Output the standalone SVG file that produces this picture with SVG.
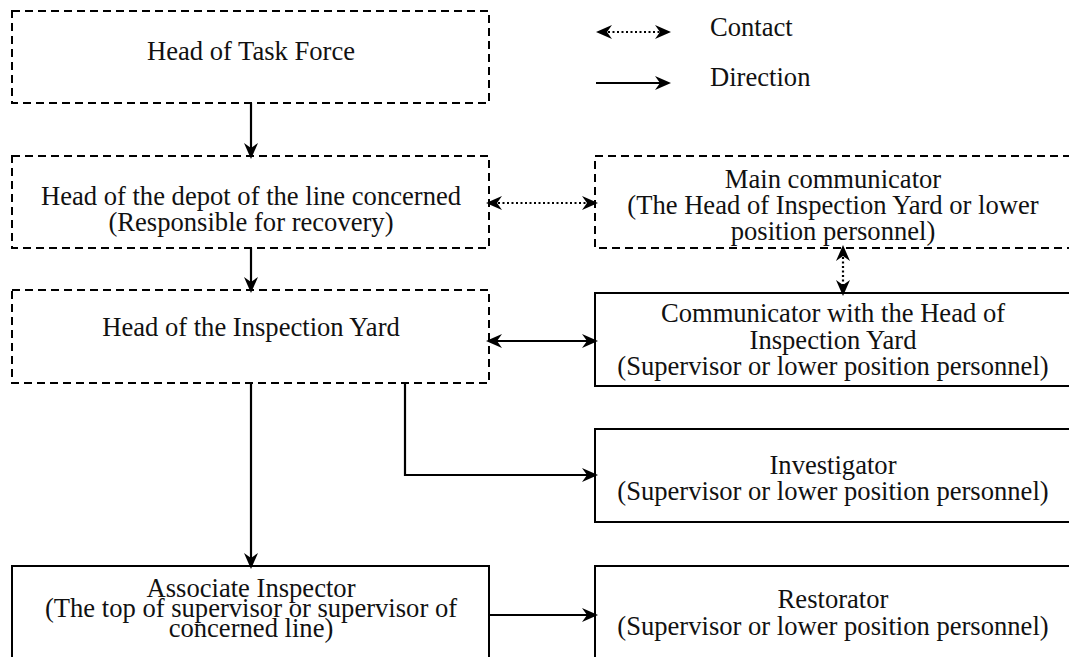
<svg xmlns="http://www.w3.org/2000/svg" width="1069" height="657" viewBox="0 0 1069 657">
  <style>
    .box { fill: #ffffff; stroke: #000000; stroke-width: 2; }
    .dashed { stroke-dasharray: 8 5; }
    text { font-family: 'Liberation Serif', 'Tinos', 'Times New Roman', serif; font-size: 26.6px; fill: #111111; }
    .label { text-anchor: middle; }
    .link { fill: none; stroke: #000000; stroke-width: 2.2; }
    .dots { stroke-dasharray: 2 2.5; }
  </style>
  <defs>
    <marker id="head" markerUnits="userSpaceOnUse" viewBox="-17 -8 19 16" refX="-3" refY="0" markerWidth="19" markerHeight="16" orient="auto-start-reverse">
      <path d="M0,0 L-16,-7 L-11,0 L-16,7 Z" fill="#000000"/>
    </marker>
  </defs>

  <rect width="1069" height="657" fill="#ffffff"/>

  <!-- legend -->
  <g id="legend">
    <line class="link dots" x1="599" y1="32" x2="668" y2="32" marker-start="url(#head)" marker-end="url(#head)"/>
    <text x="710" y="36">Contact</text>
    <line class="link" x1="596" y1="83" x2="668" y2="83" marker-end="url(#head)"/>
    <text x="710" y="86">Direction</text>
  </g>

  <!-- nodes -->
  <g id="task-force-head">
    <rect class="box dashed" x="12" y="11" width="477" height="92"/>
    <text class="label" x="251" y="60">Head of Task Force</text>
  </g>

  <g id="depot-head">
    <rect class="box dashed" x="12" y="156" width="477" height="92"/>
    <text class="label" x="251" y="205">Head of the depot of the line concerned</text>
    <text class="label" x="251" y="231">(Responsible for recovery)</text>
  </g>

  <g id="main-communicator">
    <rect class="box dashed" x="595" y="156" width="480" height="92"/>
    <text class="label" x="833" y="188">Main communicator</text>
    <text class="label" x="833" y="214">(The Head of Inspection Yard or lower</text>
    <text class="label" x="833" y="240">position personnel)</text>
  </g>

  <g id="inspection-yard-head">
    <rect class="box dashed" x="12" y="290" width="477" height="93"/>
    <text class="label" x="251" y="336">Head of the Inspection Yard</text>
  </g>

  <g id="yard-communicator">
    <rect class="box" x="595" y="293" width="480" height="93"/>
    <text class="label" x="833" y="322">Communicator with the Head of</text>
    <text class="label" x="833" y="349">Inspection Yard</text>
    <text class="label" x="833" y="375">(Supervisor or lower position personnel)</text>
  </g>

  <g id="investigator">
    <rect class="box" x="595" y="429" width="480" height="93"/>
    <text class="label" x="833" y="474">Investigator</text>
    <text class="label" x="833" y="500">(Supervisor or lower position personnel)</text>
  </g>

  <g id="associate-inspector">
    <rect class="box" x="12" y="566" width="477" height="100"/>
    <text class="label" x="251" y="597">Associate Inspector</text>
    <text class="label" x="251" y="617">(The top of supervisor or supervisor of</text>
    <text class="label" x="251" y="637">concerned line)</text>
  </g>

  <g id="restorator">
    <rect class="box" x="595" y="566" width="480" height="100"/>
    <text class="label" x="833" y="608">Restorator</text>
    <text class="label" x="833" y="635">(Supervisor or lower position personnel)</text>
  </g>

  <!-- connectors -->
  <g id="connectors">
    <line class="link" x1="251" y1="103" x2="251" y2="156" marker-end="url(#head)"/>
    <line class="link" x1="251" y1="248" x2="251" y2="290" marker-end="url(#head)"/>
    <line class="link dots" x1="489" y1="203" x2="595" y2="203" marker-start="url(#head)" marker-end="url(#head)"/>
    <line class="link dots" x1="843" y1="248" x2="843" y2="293" marker-start="url(#head)" marker-end="url(#head)"/>
    <line class="link" x1="489" y1="341" x2="595" y2="341" marker-start="url(#head)" marker-end="url(#head)"/>
    <polyline class="link" points="405,383 405,475 595,475" marker-end="url(#head)"/>
    <line class="link" x1="251" y1="383" x2="251" y2="566" marker-end="url(#head)"/>
    <line class="link" x1="489" y1="615" x2="595" y2="615" marker-end="url(#head)"/>
  </g>
</svg>
